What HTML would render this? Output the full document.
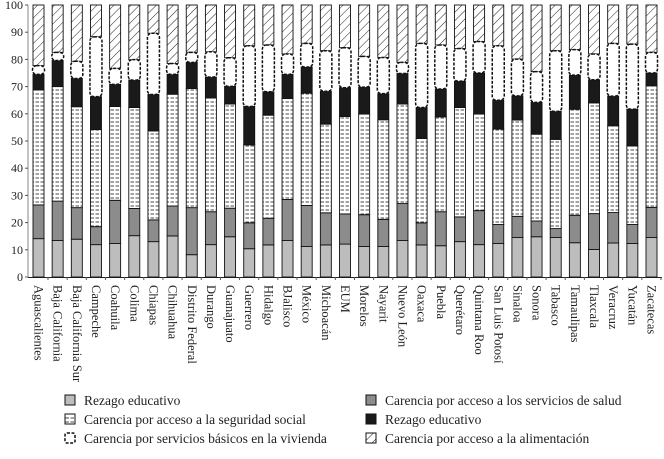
<!DOCTYPE html>
<html><head><meta charset="utf-8"><style>
body{margin:0;background:#fff;width:664px;height:454px;overflow:hidden;font-family:"Liberation Serif",serif}
svg text{font-family:"Liberation Serif",serif;fill:#222}
</style></head><body>
<svg id="chart" width="664" height="454" xmlns="http://www.w3.org/2000/svg" font-family="Liberation Serif, serif">
<defs>
<pattern id="pDash" width="5" height="4" patternUnits="userSpaceOnUse"><rect width="5" height="4" fill="#fff"/><line x1="0.5" y1="2" x2="4" y2="2" stroke="#333" stroke-width="0.9"/></pattern>
<pattern id="pHatch" width="6" height="6" patternUnits="userSpaceOnUse" patternTransform="rotate(45)"><rect width="6" height="6" fill="#fff"/><line x1="0" y1="0" x2="0" y2="6" stroke="#222" stroke-width="1"/></pattern>
</defs>
<g id="axes"></g><g id="bars"></g><g id="legend"></g>
</svg>
<script>
const categories=["Aguascalientes","Baja California","Baja California Sur","Campeche","Coahuila","Colima","Chiapas","Chihuahua","Distrito Federal","Durango","Guanajuato","Guerrero","Hidalgo","BJalisco","México","Michoacán","EUM","Morelos","Nayarit","Nuevo León","Oaxaca","Puebla","Querétaro","Quintana Roo","San Luis Potosí","Sinaloa","Sonora","Tabasco","Tamaulipas","Tlaxcala","Veracruz","Yucatán","Zacatecas"];
// cumulative tops of each layer
const top1=[14.1,13.4,13.9,11.9,12.3,15.2,13,15.1,8.2,11.9,14.8,10.4,11.8,13.4,11.2,11.8,12.1,11.2,11.2,13.4,11.8,11.5,13,11.9,12.3,14.5,14.8,14.5,12.6,10.1,12.5,12.3,14.5];
const top2=[26.5,27.9,25.5,18.5,28.2,25.2,21,26.1,25.5,24,25.3,19.9,21.6,28.5,26.3,23.6,23.2,22.9,21.2,27,19.9,24,22.1,24.4,19.3,22.3,20.6,17.8,22.7,23.3,23.7,19.3,25.6];
const top3=[68.8,70,62.6,54.2,62.7,62.3,53.7,67.2,69.3,65.8,63.6,48.6,59.5,65.6,67.6,56.2,59,59.9,57.8,63.6,50.9,58.9,62.3,59.9,54.4,57.7,52.5,50.6,61.7,64,55.6,48.2,70.3];
const top4=[74.5,79.6,73,66.3,70.8,72.4,67.1,74.5,78.9,73.5,70.1,62.7,68.1,74.5,77.2,68.3,69.6,69.8,67.4,74.8,62.3,69.1,72,75,65,66.6,64.2,60.9,74.2,72.5,66.5,61.7,75];
const top5=[77.7,82.6,79.3,88.3,76.7,79.9,89.6,78.5,82.6,82.8,80.6,85,85.3,82,85.9,83.2,84.3,81.1,80.7,78.9,85.9,85.3,84,86.6,85,80.1,75.5,83.2,83.6,82,85.9,85.6,82.6];
const yTicks=[0,10,20,30,40,50,60,70,80,90,100];
const NS="http://www.w3.org/2000/svg";
const y0=277,y100=5,x0=28,bw=11,firstC=38.5;
const Y=v=>y0-(y0-y100)*v/100;
const X=i=>firstC+i*((651.5-firstC)/(categories.length-1));
function mk(tag,attrs,parent){const e=document.createElementNS(NS,tag);for(const k in attrs)e.setAttribute(k,attrs[k]);parent.appendChild(e);return e;}
const axes=document.getElementById('axes'),bars=document.getElementById('bars'),legend=document.getElementById('legend');
const yl=mk('line',{x1:x0,y1:y100,x2:x0,y2:y0,stroke:'#888','stroke-width':1},axes);


const xl=mk('line',{x1:x0,y1:y0+0.5,x2:662,y2:y0+0.5,stroke:'#222','stroke-width':1},axes);


yTicks.forEach(t=>{
  mk('line',{x1:x0-3,y1:Y(t),x2:x0,y2:Y(t),stroke:'#555'},axes);
  const tx=mk('text',{x:x0-5,y:Y(t)+4,'text-anchor':'end','font-size':12},axes);
  tx.textContent=t;
  
  
});
categories.forEach((c,i)=>{
  const cx=X(i),l=cx-bw/2;
  const g=mk('g',{},bars);
  
  
  const seg=(a,b,fill)=>mk('rect',{x:l,y:Y(b),width:bw,height:Y(a)-Y(b),fill:fill,stroke:'#111','stroke-width':0.9},g);
  seg(top5[i],100,'url(#pHatch)');
  seg(0,top1[i],'#bdbdbd');
  seg(top1[i],top2[i],'#8c8c8c');
  seg(top2[i],top3[i],'url(#pDash)');
  seg(top3[i],top4[i],'#1a1a1a');
  mk('rect',{x:l-0.5,y:Y(top5[i]),width:bw+1,height:Y(top4[i])-Y(top5[i]),rx:4,fill:'#fff',stroke:'#111','stroke-width':1.5,'stroke-dasharray':'3,1.5'},g);
  mk('line',{x1:cx+bw/2+4,y1:y0,x2:cx+bw/2+4,y2:y0+3,stroke:'#555'},axes);
  const t=mk('text',{x:0,y:0,'font-size':12.5,transform:`translate(${cx-4},${y0+8}) rotate(90)`},axes);
  t.textContent=c;
  
  
});
const legItems=[["Rezago educativo","#bdbdbd",65,405,false],["Carencia por acceso a la seguridad social","url(#pDash)",65,424,false],["Carencia por servicios básicos en la vivienda","#fff",65,443,true],["Carencia por acceso a los servicios de salud","#8c8c8c",366,405,false],["Rezago educativo","#1a1a1a",366,424,false],["Carencia por acceso a la alimentación","url(#pHatch)",366,443,false]];
legItems.forEach(it=>{
  const g=mk('g',{},legend);
  
  
  mk('rect',{x:it[2],y:it[3]-10,width:10,height:10,fill:it[1],stroke:'#111','stroke-width':it[4]?1.5:1,'stroke-dasharray':it[4]?'3,1.5':'none',rx:it[4]?2:0},g);
  const t=mk('text',{x:it[2]+19,y:it[3],'font-size':13.5,'font-family':'Liberation Serif, serif'},g);
  t.textContent=it[0];
});
</script>
</body></html>
